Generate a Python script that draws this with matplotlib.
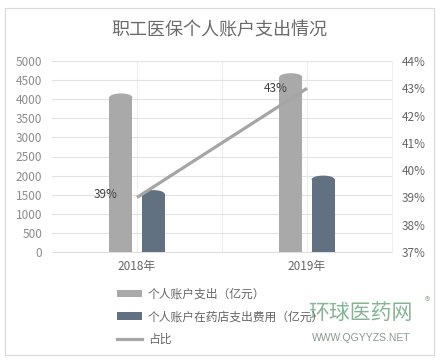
import matplotlib
matplotlib.use("Agg")
import matplotlib.pyplot as plt
from matplotlib.patches import Ellipse, Rectangle, Patch
from matplotlib.lines import Line2D
from matplotlib.ticker import FuncFormatter

plt.rcParams['font.family'] = ['Noto Sans CJK SC', 'DejaVu Sans']

title = "职工医保个人账户支出情况"
categories = ["2018年", "2019年"]
spend_total = [4150, 4680]
spend_pharmacy = [1620, 2000]
ratio = [0.39, 0.43]
ratio_labels = ["39%", "43%"]
series_names = ["个人账户支出（亿元）", "个人账户在药店支出费用（亿元）", "占比"]

W, H = 441, 360
fig = plt.figure(figsize=(W / 100, H / 100), dpi=100)

# outer border
fig.patches.append(Rectangle((5 / W, 1 - 355 / H), 429 / W, 347 / H, transform=fig.transFigure,
                             fill=False, edgecolor='#d9d9d9', linewidth=0.8))

ax = fig.add_axes([52 / W, 1 - 252 / H, 340 / W, 191 / H])
ax2 = ax.twinx()

c_gray = '#a9a9a9'
c_dark = '#627181'

x = list(range(len(categories)))
bw = 0.135
off = 0.095
cap = 200

for i in x:
    for val, dx, col in [(spend_total[i], -off, c_gray),
                         (spend_pharmacy[i], off, c_dark)]:
        xc = i + dx
        ax.bar(xc, val - cap / 2, width=bw, bottom=0, color=col, zorder=3, linewidth=0)
        ax.add_patch(Ellipse((xc, 0), bw, cap, facecolor=col, edgecolor='none', zorder=3))
        ax.add_patch(Ellipse((xc, val - cap / 2), bw, cap, facecolor=col, edgecolor='none', zorder=4))

ax.set_xlim(-0.5, 1.5)
ax.set_ylim(0, 5000)
ax.set_yticks(range(0, 5001, 500))
ax.set_xticks(x)
ax.set_xticklabels(categories)
ax.grid(axis='y', color='#e3e3e3', linewidth=0.8, zorder=0)
for xv in [0, 0.5, 1]:
    ax.axvline(xv, color='#eeeeee', linewidth=0.8, zorder=0)
for s in ['top', 'left', 'right']:
    ax.spines[s].set_visible(False)
ax.spines['bottom'].set_color('#e0e0e0')
ax.tick_params(axis='y', length=0, labelsize=8.5, labelcolor='#8c8c8c', pad=7)
ax.tick_params(axis='x', length=0, labelsize=8.5, labelcolor='#666666', pad=6)

ax2.plot(x, ratio, color='#a5a5a5', linewidth=2.3, zorder=5, solid_capstyle='butt')
ax2.set_ylim(0.37, 0.44)
ax2.set_yticks([0.37, 0.38, 0.39, 0.40, 0.41, 0.42, 0.43, 0.44])
ax2.yaxis.set_major_formatter(FuncFormatter(lambda v, p: f"{round(v * 100)}%"))
ax2.tick_params(axis='y', length=0, labelsize=8.5, labelcolor='#666666', pad=7)
for s in ['top', 'left', 'bottom']:
    ax2.spines[s].set_visible(False)
ax2.spines['right'].set_color('#eeeeee')
ax.set_zorder(1)
ax2.set_zorder(2)
ax2.patch.set_visible(False)

ax2.annotate(ratio_labels[0], (x[0], ratio[0]), xytext=(-14, 2), textcoords='offset points',
             ha='right', va='center', fontsize=8.5, color='#404040')
ax2.annotate(ratio_labels[1], (x[1], ratio[1]), xytext=(-14, 0), textcoords='offset points',
             ha='right', va='center', fontsize=8.5, color='#404040')

fig.text(219 / W, 1 - 30 / H, title, ha='center', va='center', fontsize=13, color='#6b6b6b')

handles = [Patch(facecolor=c_gray, edgecolor='none'),
           Patch(facecolor=c_dark, edgecolor='none'),
           Line2D([], [], color='#a5a5a5', linewidth=2.3)]
leg = fig.legend(handles, series_names, loc='upper left', bbox_to_anchor=(117 / W, 1 - 288 / H),
                 frameon=False, fontsize=8.5, labelcolor='#666666', handlelength=2.1,
                 handleheight=0.55, labelspacing=0.78, handletextpad=0.5, borderpad=0, borderaxespad=0)

# watermark
fig.text(360 / W, 1 - 313 / H, "环球医药网", ha='center', va='center', fontsize=15,
         color='#6fa882', alpha=0.85)
fig.text(427 / W, 1 - 302 / H, "®", ha='center', va='center', fontsize=8, color='#9ab8a0')
fig.text(361 / W, 1 - 338 / H, "WWW.QGYYZS.NET", ha='center', va='center', fontsize=7.5,
         color='#8a9a8e', family=['Liberation Sans', 'DejaVu Sans'])

fig.savefig("out.png", dpi=100, facecolor='white')
